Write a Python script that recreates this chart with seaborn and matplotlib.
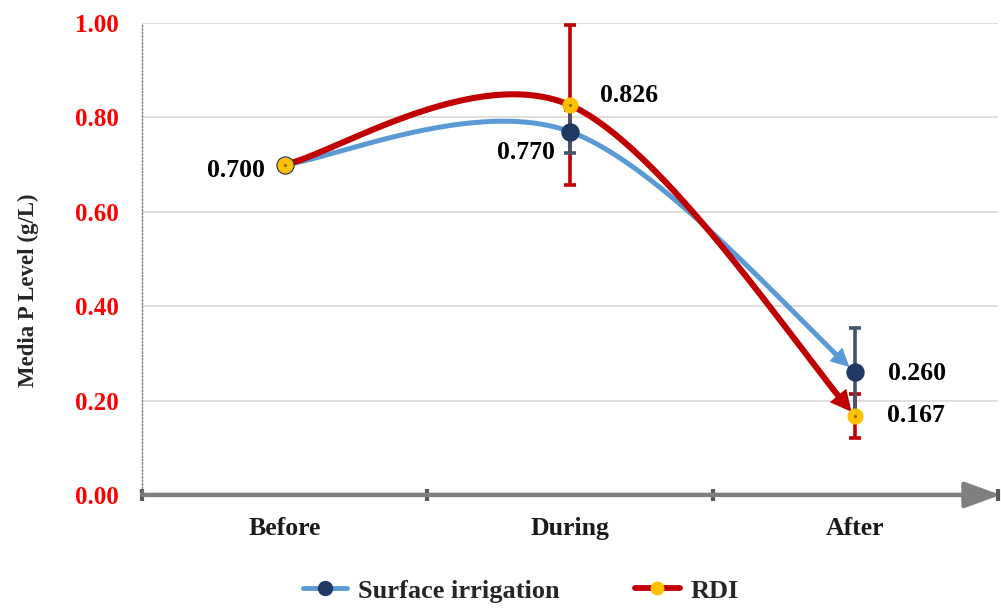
import numpy as np
import pandas as pd
import matplotlib
matplotlib.use("Agg")
import matplotlib.pyplot as plt
from matplotlib.lines import Line2D
import seaborn as sns

# data
stages = ["Before", "During", "After"]
surfaceMean = [0.700, 0.770, 0.260]
surfaceErr = [0.0, 0.045, 0.094]
rdiMean = [0.700, 0.826, 0.167]
rdiErr = [0.0, 0.170, 0.046]
yTicks = [0.0, 0.2, 0.4, 0.6, 0.8, 1.0]

blueLine = "#5B9BD5"
navy = "#203864"
slate = "#44546A"
darkRed = "#C00000"
gold = "#FFC000"

sns.set_theme(style="white")
plt.rcParams["font.family"] = ["Liberation Serif", "DejaVu Serif"]
plt.rcParams["font.weight"] = "bold"


def smoothCurve(xs, ys, n=80):
    # Excel-like smoothed line: cubic bezier through the points (catmull-rom tangents)
    pts = np.column_stack([xs, ys]).astype(float)
    out = []
    for i in range(len(pts) - 1):
        p0 = pts[i - 1] if i > 0 else pts[i]
        p1, p2 = pts[i], pts[i + 1]
        p3 = pts[i + 2] if i + 2 < len(pts) else pts[i + 1]
        c1 = p1 + (p2 - p0) / 6
        c2 = p2 - (p3 - p1) / 6
        t = np.linspace(0, 1, n)[:, None]
        seg = (1 - t) ** 3 * p1 + 3 * (1 - t) ** 2 * t * c1 + 3 * (1 - t) * t ** 2 * c2 + t ** 3 * p2
        out.append(seg if i == 0 else seg[1:])
    return np.vstack(out)


fig = plt.figure(figsize=(10.01, 6.08), dpi=100)
ax = fig.add_axes([0.142, 0.186, 0.855, 0.776])
ax.set_xlim(0, 3)
ax.set_ylim(0, 1.0)

xPos = np.arange(len(stages)) + 0.5


def drawArrowCurve(means, color, lw, tipGap, headLen, scale):
    curve = smoothCurve(xPos, means)
    disp = ax.transData.transform(curve)
    seg = np.sqrt(((np.diff(disp, axis=0)) ** 2).sum(axis=1))
    fromEnd = np.concatenate([np.cumsum(seg[::-1])[::-1], [0]])
    tipIdx = np.argmax(fromEnd <= tipGap)
    baseIdx = np.argmax(fromEnd <= tipGap + headLen - 3)
    headIdx = np.argmax(fromEnd <= tipGap + headLen)
    df = pd.DataFrame({"x": curve[:baseIdx + 1, 0], "y": curve[:baseIdx + 1, 1]})
    sns.lineplot(data=df, x="x", y="y", sort=False, estimator=None, color=color, lw=lw,
                 ax=ax, zorder=2)
    ax.annotate("", xy=curve[tipIdx], xytext=curve[headIdx],
                arrowprops=dict(arrowstyle="-|>,head_length=0.9,head_width=0.45",
                                mutation_scale=scale, color=color, lw=0,
                                shrinkA=0, shrinkB=0), zorder=2)


# light horizontal gridlines
for v in yTicks[1:]:
    ax.axhline(v, color="#D9D9D9", lw=1.2, zorder=0)

drawArrowCurve(surfaceMean, blueLine, 3.6, 8, 18, 15)
drawArrowCurve(rdiMean, darkRed, 4.4, 7, 21, 17)

# error bars
ax.errorbar(xPos[1:], rdiMean[1:], yerr=rdiErr[1:], fmt="none", ecolor=darkRed,
            elinewidth=2.6, capsize=4.5, capthick=2.6, zorder=3, clip_on=False)
ax.errorbar(xPos[1:], surfaceMean[1:], yerr=surfaceErr[1:], fmt="none", ecolor=slate,
            elinewidth=2.6, capsize=4.5, capthick=2.6, zorder=4, clip_on=False)

# markers
sns.scatterplot(x=xPos, y=surfaceMean, color=navy, s=150, edgecolor=navy, ax=ax, zorder=5)
sns.scatterplot(x=xPos, y=rdiMean, color=gold, s=115, edgecolor=gold, ax=ax, zorder=6)
sns.scatterplot(x=xPos, y=rdiMean, color="#8C6A00", s=5, linewidth=0, ax=ax, zorder=7)

# value labels
labelSpecs = [
    (xPos[0], rdiMean[0], "0.700", -20, -6, "right"),
    (xPos[1], surfaceMean[1], "0.770", -15, -21, "right"),
    (xPos[1], rdiMean[1], "0.826", 30, 10, "left"),
    (xPos[2], surfaceMean[2], "0.260", 33, -1, "left"),
    (xPos[2], rdiMean[2], "0.167", 32, 1, "left"),
]
for x, y, txt, dx, dy, ha in labelSpecs:
    ax.annotate(txt, xy=(x, y), xytext=(dx, dy), textcoords="offset pixels",
                ha=ha, va="center", fontsize=18.5, fontweight="bold", color="black", zorder=8)

# axes styling
ax.set_yticks(yTicks)
ax.set_yticklabels([f"{v:.2f}" for v in yTicks], color="#FF0000", fontsize=18, fontweight="bold")
ax.tick_params(axis="y", length=0, pad=17)

ax.set_xticks(xPos)
ax.set_xticklabels(stages, fontsize=18.5, fontweight="bold", color="#1a1a1a")
ax.set_xticks([0, 1, 2, 3], minor=True)
ax.tick_params(axis="x", which="major", length=0, pad=16)
ax.tick_params(axis="x", which="minor", bottom=True, direction="inout", length=9, width=3,
               color="#595959")

for side in ["top", "right", "bottom"]:
    ax.spines[side].set_visible(False)
ax.spines["left"].set_color("#7F7F7F")
ax.spines["left"].set_linestyle((0, (1, 1.5)))
ax.spines["left"].set_linewidth(1.0)

# thick grey category axis with arrow
ax.annotate("", xy=(1.003, 0), xytext=(0, 0), xycoords="axes fraction",
            arrowprops=dict(arrowstyle="-|>,head_length=1.1,head_width=0.4", mutation_scale=20,
                            color="#7F7F7F", lw=3.2, shrinkA=0, shrinkB=0),
            annotation_clip=False, zorder=1)

ax.set_xlabel("")
ax.set_ylabel("Media P Level (g/L)", fontsize=16.5, fontweight="bold")
ax.yaxis.set_label_coords(-0.121, 0.434)

handles = [
    Line2D([], [], color=blueLine, lw=3.5, marker="o", ms=10, mfc=navy, mec=navy),
    Line2D([], [], color=darkRed, lw=4.2, marker="o", ms=9, mfc=gold, mec=gold),
]
fig.legend(handles, ["Surface irrigation", "RDI"], loc="center", bbox_to_anchor=(0.52, 0.028),
           ncol=2, frameon=False, handlelength=1.7, handletextpad=0.4, columnspacing=2.85,
           prop={"weight": "bold", "size": 19})

fig.savefig("out.png", dpi=100)
